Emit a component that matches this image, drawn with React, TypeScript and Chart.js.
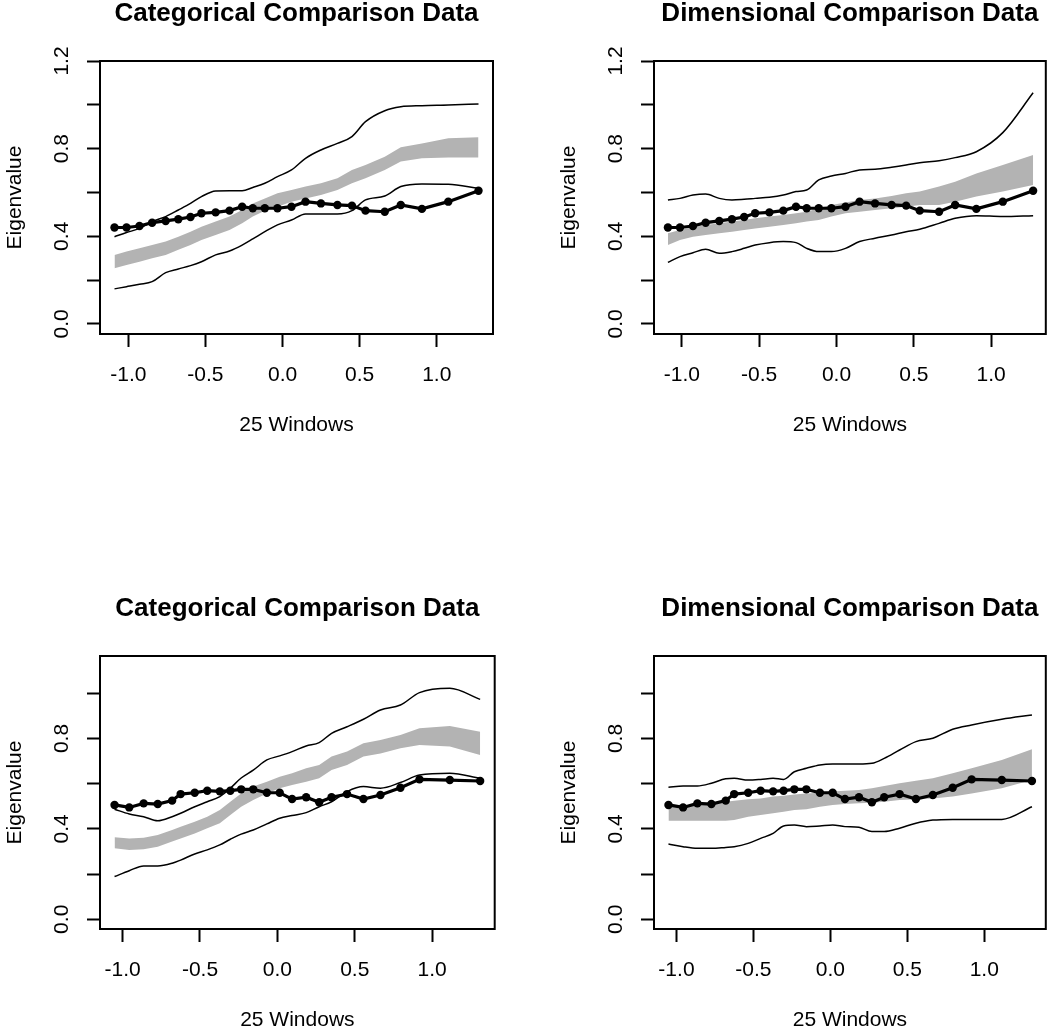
import React, { useEffect, useRef } from "react";
import { Chart, registerables } from "chart.js";

Chart.register(...registerables);

// ---------- data ----------
const xTickValues = [-1.0, -0.5, 0.0, 0.5, 1.0];
const topYTickValues = [0.0, 0.2, 0.4, 0.6, 0.8, 1.0, 1.2];
const bottomYTickValues = [0.0, 0.2, 0.4, 0.6, 0.8, 1.0];
const yLabelValues = [0.0, 0.4, 0.8, 1.2];

const topX = [-1.09, -1.012, -0.928, -0.846, -0.758, -0.676, -0.597, -0.526, -0.434, -0.344, -0.262, -0.193, -0.115, -0.033, 0.058, 0.149, 0.249, 0.356, 0.45, 0.538, 0.663, 0.767, 0.904, 1.075, 1.271];
const topObserved = [0.44, 0.44, 0.447, 0.462, 0.47, 0.478, 0.488, 0.505, 0.509, 0.517, 0.535, 0.528, 0.528, 0.528, 0.535, 0.558, 0.55, 0.543, 0.54, 0.517, 0.512, 0.543, 0.525, 0.558, 0.608];

const catTopUpper = [0.398, 0.417, 0.436, 0.467, 0.49, 0.52, 0.55, 0.581, 0.607, 0.608, 0.608, 0.623, 0.642, 0.672, 0.703, 0.756, 0.794, 0.824, 0.855, 0.923, 0.973, 0.991, 0.996, 0.999, 1.004];
const catTopLower = [0.16, 0.17, 0.181, 0.193, 0.234, 0.251, 0.266, 0.284, 0.315, 0.333, 0.36, 0.388, 0.421, 0.452, 0.474, 0.502, 0.502, 0.502, 0.517, 0.566, 0.584, 0.627, 0.639, 0.637, 0.619];
const catTopBandHi = [0.315, 0.33, 0.345, 0.36, 0.376, 0.398, 0.421, 0.444, 0.467, 0.49, 0.52, 0.55, 0.573, 0.596, 0.611, 0.627, 0.642, 0.665, 0.703, 0.725, 0.763, 0.806, 0.824, 0.847, 0.852];
const catTopBandLo = [0.254, 0.269, 0.284, 0.3, 0.315, 0.338, 0.36, 0.383, 0.406, 0.429, 0.459, 0.49, 0.517, 0.535, 0.558, 0.573, 0.588, 0.611, 0.642, 0.665, 0.703, 0.741, 0.756, 0.759, 0.759];

const dimTopUpper = [0.566, 0.573, 0.588, 0.593, 0.573, 0.566, 0.569, 0.573, 0.578, 0.588, 0.604, 0.611, 0.657, 0.675, 0.687, 0.703, 0.706, 0.715, 0.725, 0.736, 0.745, 0.759, 0.786, 0.873, 1.055];
const dimTopLower = [0.281, 0.307, 0.325, 0.341, 0.322, 0.33, 0.345, 0.36, 0.371, 0.376, 0.371, 0.345, 0.33, 0.33, 0.345, 0.376, 0.391, 0.406, 0.421, 0.432, 0.459, 0.482, 0.494, 0.49, 0.494];
const dimTopBandHi = [0.414, 0.429, 0.441, 0.452, 0.459, 0.467, 0.474, 0.482, 0.49, 0.497, 0.505, 0.512, 0.528, 0.543, 0.554, 0.566, 0.573, 0.584, 0.596, 0.604, 0.627, 0.649, 0.687, 0.725, 0.771];
const dimTopBandLo = [0.36, 0.383, 0.398, 0.406, 0.414, 0.421, 0.429, 0.436, 0.444, 0.452, 0.459, 0.467, 0.474, 0.49, 0.505, 0.512, 0.52, 0.528, 0.535, 0.543, 0.543, 0.558, 0.581, 0.604, 0.634];

const bottomX = [-1.052, -0.957, -0.864, -0.773, -0.68, -0.625, -0.534, -0.453, -0.372, -0.304, -0.234, -0.156, -0.068, 0.015, 0.095, 0.186, 0.27, 0.35, 0.45, 0.556, 0.666, 0.795, 0.918, 1.114, 1.31];
const bottomObserved = [0.506, 0.495, 0.513, 0.51, 0.525, 0.554, 0.56, 0.569, 0.566, 0.569, 0.575, 0.575, 0.56, 0.56, 0.532, 0.54, 0.518, 0.54, 0.554, 0.532, 0.55, 0.582, 0.619, 0.616, 0.612];

const catBotUpper = [0.487, 0.466, 0.454, 0.436, 0.454, 0.469, 0.498, 0.52, 0.543, 0.58, 0.625, 0.66, 0.705, 0.723, 0.742, 0.767, 0.782, 0.823, 0.852, 0.885, 0.926, 0.948, 1.003, 1.022, 0.973];
const catBotLower = [0.189, 0.215, 0.236, 0.236, 0.248, 0.262, 0.289, 0.307, 0.329, 0.354, 0.377, 0.395, 0.422, 0.447, 0.459, 0.472, 0.498, 0.52, 0.565, 0.587, 0.58, 0.605, 0.638, 0.646, 0.624];
const catBotBandHi = [0.363, 0.358, 0.361, 0.373, 0.395, 0.41, 0.432, 0.454, 0.484, 0.52, 0.557, 0.587, 0.609, 0.631, 0.646, 0.668, 0.683, 0.72, 0.742, 0.779, 0.793, 0.815, 0.845, 0.855, 0.83];
const catBotBandLo = [0.314, 0.307, 0.31, 0.321, 0.344, 0.358, 0.38, 0.403, 0.425, 0.461, 0.498, 0.528, 0.557, 0.58, 0.594, 0.609, 0.624, 0.661, 0.683, 0.72, 0.734, 0.757, 0.771, 0.764, 0.727];

const dimBotUpper = [0.584, 0.59, 0.59, 0.602, 0.622, 0.624, 0.616, 0.619, 0.624, 0.619, 0.653, 0.668, 0.683, 0.687, 0.687, 0.687, 0.69, 0.712, 0.749, 0.786, 0.801, 0.841, 0.86, 0.885, 0.904];
const dimBotLower = [0.333, 0.321, 0.314, 0.314, 0.318, 0.321, 0.336, 0.358, 0.38, 0.413, 0.417, 0.41, 0.413, 0.417, 0.41, 0.407, 0.388, 0.388, 0.403, 0.425, 0.439, 0.442, 0.442, 0.442, 0.498];
const dimBotBandHi = [0.498, 0.501, 0.506, 0.513, 0.52, 0.525, 0.531, 0.535, 0.543, 0.547, 0.552, 0.557, 0.56, 0.565, 0.569, 0.572, 0.58, 0.59, 0.602, 0.613, 0.624, 0.646, 0.668, 0.705, 0.752];
const dimBotBandLo = [0.436, 0.436, 0.436, 0.436, 0.436, 0.439, 0.454, 0.461, 0.469, 0.476, 0.484, 0.487, 0.498, 0.506, 0.51, 0.513, 0.516, 0.52, 0.528, 0.531, 0.535, 0.543, 0.557, 0.58, 0.616];

// ---------- styling ----------
const FONT = "'Liberation Sans', Arial, Helvetica, sans-serif";
const CANVAS_H = 460;
const BOX_LEFT = 100; // in canvas coords
const BOX_TOP = 61;
const BOX_BOTTOM = 334;
const TITLE_PAD_TOP = 1;

const boxPlugin = {
  id: "rbox",
  afterDraw(chart: any) {
    const { ctx, chartArea: a } = chart;
    ctx.save();
    ctx.strokeStyle = "#000";
    ctx.lineWidth = 2;
    ctx.strokeRect(a.left, a.top, a.right - a.left, a.bottom - a.top);
    ctx.restore();
  },
};

type PanelProps = {
  left: number;
  top: number;
  width: number;
  boxRight: number;
  title: string;
  xs: number[];
  observed: number[];
  upper: number[];
  lower: number[];
  bandHi: number[];
  bandLo: number[];
  xMin: number;
  xMax: number;
  yMin: number;
  yMax: number;
  yTicks: number[];
};

function pts(xs: number[], ys: number[]) {
  return xs.map((x, i) => ({ x, y: ys[i] }));
}

function Panel(p: PanelProps) {
  const ref = useRef<HTMLCanvasElement>(null);
  useEffect(() => {
    if (!ref.current) return;
    const tickFont = { family: FONT, size: 21 };
    const gridCfg = {
      display: true,
      drawOnChartArea: false,
      drawTicks: true,
      tickLength: 13,
      tickWidth: 2,
      tickColor: "#000",
    };
    const chart = new Chart(ref.current, {
      type: "line",
      data: {
        datasets: [
          {
            data: pts(p.xs, p.observed),
            borderColor: "#000",
            backgroundColor: "#000",
            borderWidth: 3.2,
            pointRadius: 4.2,
            pointBorderWidth: 0,
            pointBackgroundColor: "#000",
            fill: false,
            tension: 0,
          },
          {
            data: pts(p.xs, p.upper),
            borderColor: "#000",
            borderWidth: 1.5,
            pointRadius: 0,
            fill: false,
            cubicInterpolationMode: "monotone",
          },
          {
            data: pts(p.xs, p.lower),
            borderColor: "#000",
            borderWidth: 1.5,
            pointRadius: 0,
            fill: false,
            cubicInterpolationMode: "monotone",
          },
          {
            data: pts(p.xs, p.bandLo),
            borderColor: "rgba(0,0,0,0)",
            borderWidth: 0,
            pointRadius: 0,
            fill: false,
          },
          {
            data: pts(p.xs, p.bandHi),
            borderColor: "rgba(0,0,0,0)",
            borderWidth: 0,
            pointRadius: 0,
            fill: "-1",
            backgroundColor: "#b3b3b3",
          },
        ] as any,
      },
      options: {
        animation: false,
        responsive: false,
        devicePixelRatio: 1,
        events: [],
        layout: { padding: { left: 0, right: p.width - p.boxRight, top: 0, bottom: 0 } },
        plugins: {
          legend: { display: false },
          tooltip: { enabled: false },
          title: {
            display: true,
            text: p.title,
            fullSize: false,
            color: "#000",
            font: { family: FONT, size: 26, weight: "bold", lineHeight: 1 },
            padding: { top: TITLE_PAD_TOP, bottom: BOX_TOP - 26 - TITLE_PAD_TOP },
          },
        },
        scales: {
          x: {
            type: "linear",
            position: "bottom",
            min: p.xMin,
            max: p.xMax,
            afterBuildTicks: (s: any) => {
              s.ticks = xTickValues.map((v) => ({ value: v }));
            },
            afterFit: (s: any) => {
              s.height = CANVAS_H - BOX_BOTTOM;
            },
            grid: gridCfg,
            border: { display: false },
            ticks: {
              color: "#000",
              font: tickFont,
              padding: 15.4,
              minRotation: 0,
              maxRotation: 0,
              callback: (v: any) => Number(v).toFixed(1),
            },
            title: {
              display: true,
              text: "25 Windows",
              color: "#000",
              font: tickFont,
              padding: { top: 0, bottom: CANVAS_H - 425.5 - 12.6 },
            },
          },
          y: {
            type: "linear",
            position: "left",
            min: p.yMin,
            max: p.yMax,
            afterBuildTicks: (s: any) => {
              s.ticks = p.yTicks.map((v) => ({ value: v }));
            },
            afterFit: (s: any) => {
              s.width = BOX_LEFT;
            },
            grid: gridCfg,
            border: { display: false },
            ticks: {
              color: "#000",
              font: tickFont,
              padding: 10.4,
              minRotation: 90,
              maxRotation: 90,
              crossAlign: "center",
              callback: (v: any) =>
                yLabelValues.some((l) => Math.abs(l - Number(v)) < 1e-6) ? Number(v).toFixed(1) : "",
            },
            title: {
              display: true,
              text: "Eigenvalue",
              color: "#000",
              font: tickFont,
              padding: { top: 2.4, bottom: 0 },
            },
          },
        },
      } as any,
      plugins: [boxPlugin],
    });
    return () => chart.destroy();
  }, []);
  return (
    <canvas
      ref={ref}
      width={p.width}
      height={CANVAS_H}
      style={{ position: "absolute", left: p.left, top: p.top, width: p.width, height: CANVAS_H }}
    />
  );
}

export default function App() {
  return (
    <div
      style={{
        position: "absolute",
        left: 0,
        top: 0,
        width: 1050,
        height: 1029,
        overflow: "hidden",
        background: "#fff",
      }}
    >
      <Panel
        left={0}
        top={0}
        width={525}
        boxRight={493}
        title="Categorical Comparison Data"
        xs={topX}
        observed={topObserved}
        upper={catTopUpper}
        lower={catTopLower}
        bandHi={catTopBandHi}
        bandLo={catTopBandLo}
        xMin={-1.184}
        xMax={1.365}
        yMin={-0.046}
        yMax={1.2}
        yTicks={topYTickValues}
      />
      <Panel
        left={554}
        top={0}
        width={496}
        boxRight={494.3}
        title="Dimensional Comparison Data"
        xs={topX}
        observed={topObserved}
        upper={dimTopUpper}
        lower={dimTopLower}
        bandHi={dimTopBandHi}
        bandLo={dimTopBandLo}
        xMin={-1.18}
        xMax={1.353}
        yMin={-0.046}
        yMax={1.2}
        yTicks={topYTickValues}
      />
      <Panel
        left={0}
        top={595}
        width={525}
        boxRight={494.7}
        title="Categorical Comparison Data"
        xs={bottomX}
        observed={bottomObserved}
        upper={catBotUpper}
        lower={catBotLower}
        bandHi={catBotBandHi}
        bandLo={catBotBandLo}
        xMin={-1.146}
        xMax={1.404}
        yMin={-0.043}
        yMax={1.165}
        yTicks={bottomYTickValues}
      />
      <Panel
        left={554}
        top={595}
        width={496}
        boxRight={494.3}
        title="Dimensional Comparison Data"
        xs={bottomX}
        observed={bottomObserved}
        upper={dimBotUpper}
        lower={dimBotLower}
        bandHi={dimBotBandHi}
        bandLo={dimBotBandLo}
        xMin={-1.146}
        xMax={1.4}
        yMin={-0.043}
        yMax={1.165}
        yTicks={bottomYTickValues}
      />
    </div>
  );
}
